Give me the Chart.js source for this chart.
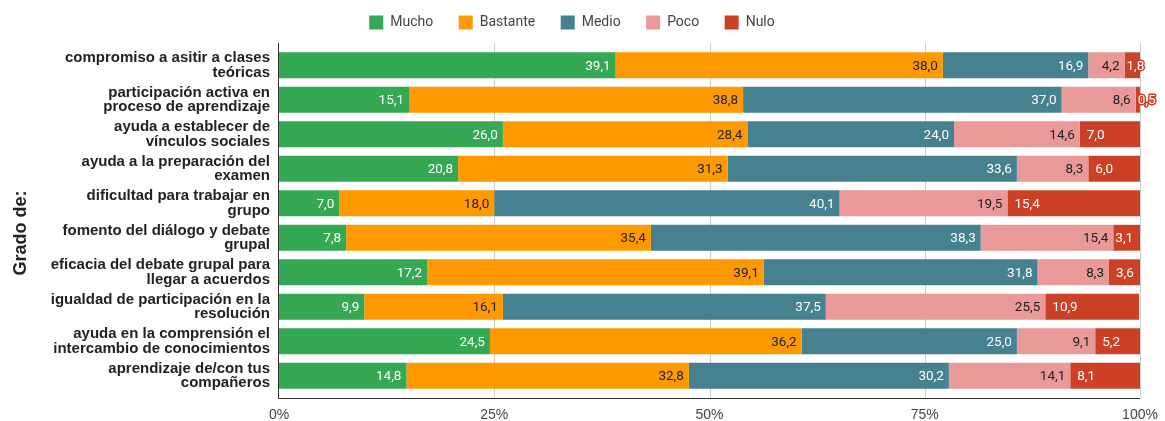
<!DOCTYPE html>
<html>
<head>
<meta charset="utf-8">
<script src="https://cdn.jsdelivr.net/npm/chart.js@4.4.1/dist/chart.umd.min.js"></script>
<style>
  html, body { margin: 0; padding: 0; background: #fff; }
  #wrap { width: 1165px; height: 421px; }
</style>
</head>
<body>
<div id="wrap"><canvas id="chart" width="1165" height="421"></canvas></div>
<script>
// Survey answers, percentage per level, one entry per question (top to bottom)
const categories = [
  ['compromiso a asitir a clases', 'teóricas'],
  ['participación activa en', 'proceso de aprendizaje'],
  ['ayuda a establecer de', 'vínculos sociales'],
  ['ayuda a la preparación del', 'examen'],
  ['dificultad para trabajar en', 'grupo'],
  ['fomento del diálogo y debate', 'grupal'],
  ['eficacia del debate grupal para', 'llegar a acuerdos'],
  ['igualdad de participación en la', 'resolución'],
  ['ayuda en la comprensión el', 'intercambio de conocimientos'],
  ['aprendizaje de/con tus', 'compañeros']
];
const levels = ['Mucho', 'Bastante', 'Medio', 'Poco', 'Nulo'];
const mucho    = [39.1, 15.1, 26.0, 20.8,  7.0,  7.8, 17.2,  9.9, 24.5, 14.8];
const bastante = [38.0, 38.8, 28.4, 31.3, 18.0, 35.4, 39.1, 16.1, 36.2, 32.8];
const medio    = [16.9, 37.0, 24.0, 33.6, 40.1, 38.3, 31.8, 37.5, 25.0, 30.2];
const poco     = [ 4.2,  8.6, 14.6,  8.3, 19.5, 15.4,  8.3, 25.5,  9.1, 14.1];
const nulo     = [ 1.8,  0.5,  7.0,  6.0, 15.4,  3.1,  3.6, 10.9,  5.2,  8.1];
const xTicks = [0, 25, 50, 75, 100];

const colors = ['#34a853', '#ff9900', '#45818e', '#ea9999', '#cc4125'];
const labelColors = ['#ffffff', '#222222', '#ffffff', '#222222', '#ffffff'];
const series = [mucho, bastante, medio, poco, nulo];

const fmt = v => v.toFixed(1).replace('.', ',');

// fixed legend block height, legend row drawn a little higher
const legendBlock = {
  id: 'legendBlock',
  beforeInit(chart) {
    const fit = chart.legend.fit;
    chart.legend.fit = function () {
      fit.call(this);
      this.height = 48;
    };
  },
  afterLayout(chart) {
    chart.legend.top -= 10;
    chart.legend.left += 4;
  }
};

// gridlines + axis lines, a bit taller than the bar area
const frame = {
  id: 'frame',
  beforeDatasetsDraw(chart) {
    const {ctx, chartArea} = chart;
    const x = chart.scales.x;
    const top = chartArea.top - 5, bottom = chartArea.bottom + 5;
    ctx.save();
    ctx.lineWidth = 1;
    ctx.strokeStyle = '#cccccc';
    xTicks.slice(1).forEach(t => {
      const px = Math.round(x.getPixelForValue(t)) + 0.5;
      ctx.beginPath(); ctx.moveTo(px, top); ctx.lineTo(px, bottom); ctx.stroke();
    });
    ctx.strokeStyle = '#333333';
    const x0 = Math.round(x.getPixelForValue(0)) - 0.5;
    ctx.beginPath();
    ctx.moveTo(x0, top);
    ctx.lineTo(x0, bottom + 0.5);
    ctx.lineTo(Math.round(x.getPixelForValue(100)), bottom + 0.5);
    ctx.stroke();
    ctx.restore();
  }
};

// value labels: end of segment (last series at the start), outlined when too narrow
const valueLabels = {
  id: 'valueLabels',
  afterDatasetsDraw(chart) {
    const {ctx} = chart;
    const last = chart.data.datasets.length - 1;
    ctx.save();
    ctx.font = '13.5px Roboto, "Liberation Sans", sans-serif';
    ctx.textBaseline = 'middle';
    chart.data.datasets.forEach((ds, di) => {
      chart.getDatasetMeta(di).data.forEach((bar, i) => {
        const txt = fmt(ds.data[i]);
        const w = ctx.measureText(txt).width;
        const left = Math.min(bar.base, bar.x), right = Math.max(bar.base, bar.x);
        const y = bar.y + 1;
        if (w + 9 <= right - left) {
          ctx.fillStyle = labelColors[di];
          if (di === last) {
            ctx.textAlign = 'left';
            ctx.fillText(txt, left + 7, y);
          } else {
            ctx.textAlign = 'right';
            ctx.fillText(txt, right - 5, y);
          }
        } else {
          ctx.textAlign = 'left';
          ctx.lineJoin = 'round';
          ctx.lineWidth = 3;
          ctx.strokeStyle = colors[di];
          ctx.strokeText(txt, left + 2, y);
          ctx.fillStyle = '#ffffff';
          ctx.fillText(txt, left + 2, y);
        }
      });
    });
    ctx.restore();
  }
};

new Chart(document.getElementById('chart'), {
  type: 'bar',
  data: {
    labels: categories,
    datasets: levels.map((name, k) => ({
      label: name,
      data: series[k],
      backgroundColor: colors[k],
      borderWidth: 0,
      barPercentage: 0.75,
      categoryPercentage: 1.0
    }))
  },
  options: {
    indexAxis: 'y',
    responsive: false,
    animation: false,
    layout: { padding: { top: 0, right: 25, bottom: 0, left: 0 } },
    scales: {
      x: {
        stacked: true,
        min: 0,
        max: 100,
        afterBuildTicks: s => { s.ticks = xTicks.map(v => ({ value: v })); },
        afterFit: s => {
          s.height = 28;
          s.paddingLeft = 0;
          s.paddingRight = 0;
        },
        grid: { display: false, drawTicks: false },
        border: { display: false },
        ticks: {
          padding: 14,
          color: '#444',
          maxRotation: 0,
          font: { family: '"Liberation Sans", Arial, sans-serif', size: 14 },
          callback: v => v + '%'
        }
      },
      y: {
        stacked: true,
        afterFit: s => { s.width = 279; },
        grid: { display: false, drawTicks: false },
        border: { display: false },
        ticks: {
          padding: 9,
          color: '#222',
          font: { family: '"Liberation Sans", Arial, sans-serif', size: 15, weight: 'bold', lineHeight: 0.95 }
        },
        title: {
          display: true,
          // trailing spaces push the rotated title a little lower
          text: 'Grado de:     ',
          color: '#222',
          padding: { top: 10, bottom: 0 },
          font: { family: '"Liberation Sans", Arial, sans-serif', size: 18, weight: 'bold' }
        }
      }
    },
    plugins: {
      legend: {
        position: 'top',
        labels: {
          boxWidth: 14,
          boxHeight: 14,
          padding: 25.5,
          color: '#444',
          font: { family: 'Roboto', size: 14 }
        }
      },
      tooltip: { enabled: false }
    }
  },
  plugins: [legendBlock, frame, valueLabels]
});
</script>
</body>
</html>
